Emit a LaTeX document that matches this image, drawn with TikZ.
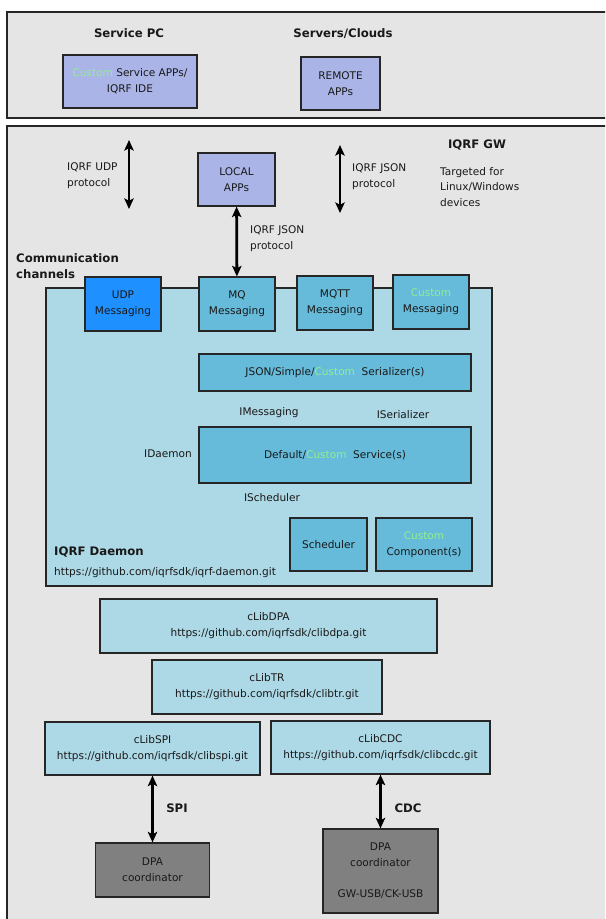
\documentclass[tikz,border=0pt]{standalone}
\usepackage{fontspec}
\setmainfont{DejaVu Sans}
\usetikzlibrary{arrows.meta}
\definecolor{gwgray}{RGB}{229,229,229}
\definecolor{applav}{RGB}{170,180,230}
\definecolor{libblue}{RGB}{173,216,230}
\definecolor{compblue}{RGB}{102,187,218}
\definecolor{udpblue}{RGB}{30,144,255}
\definecolor{dpagray}{RGB}{128,128,128}
\definecolor{custgreen}{RGB}{144,238,144}
\newcommand{\cust}{\textcolor{custgreen}{Custom}}

\begin{document}
\begin{tikzpicture}[x=0.03cm, y=-0.03cm,
    every node/.style={font=\fontsize{9}{13.6}\selectfont, text=black!90},
    box/.style={draw=black!85, line width=1pt, align=center, inner sep=0pt},
    lbl/.style={inner sep=0pt, align=left},
    head/.style={inner sep=0pt, align=left, font=\fontsize{10}{13.6}\selectfont\bfseries},
    link/.style={{Stealth[length=9pt,width=8pt,inset=2pt]}-{Stealth[length=9pt,width=8pt,inset=2pt]}, line width=2.4pt}]
\fill[white] (0,0) rectangle (605,919);
\clip (0,0) rectangle (605,919);
% hosts
\node[box, fill=gwgray, minimum width=18.39cm, minimum height=3.18cm] (top) at (313.5,65) {}; % top
\node[box, fill=gwgray, minimum width=18.39cm, minimum height=24.12cm] (gw) at (313.5,528) {}; % gw
\node[head] (servicepc) at (129,33) {Service PC}; % servicepc
\node[head] (servers) at (343,34) {Servers/Clouds}; % servers
\node[box, fill=applav, minimum width=4.02cm, minimum height=1.59cm] (svcapp) at (130,81.5) {\cust{} Service APPs/\\IQRF IDE}; % svcapp
\node[box, fill=applav, minimum width=2.37cm, minimum height=1.59cm] (remote) at (340.5,83.5) {REMOTE\\APPs}; % remote
% gateway
\node[head] (gwtitle) at (477,145) {IQRF GW}; % gwtitle
\node[lbl, anchor=west] (target) at (440,187) {Targeted for\\Linux/Windows\\devices}; % target
\node[box, fill=applav, minimum width=2.31cm, minimum height=1.59cm] (local) at (236.5,179.5) {LOCAL\\APPs}; % local
\coordinate (udptop) at (129,140); % udptop
\coordinate (udpbot) at (129,209); % udpbot
\coordinate (jsontop) at (340,145); % jsontop
\coordinate (jsonbot) at (340,213); % jsonbot
\node[lbl, anchor=west] (udplbl) at (67,176) {IQRF UDP\\protocol}; % udplbl
\node[lbl, anchor=west] (jsonlbl) at (352,177) {IQRF JSON\\protocol}; % jsonlbl
\node[lbl, anchor=west] (locallbl) at (250,239) {IQRF JSON\\protocol}; % locallbl
\node[head, anchor=west] (channels) at (16,266) {Communication\\channels}; % channels
% daemon
\node[box, fill=libblue, minimum width=13.38cm, minimum height=8.94cm] (daemon) at (269,437) {}; % daemon
\node[box, fill=udpblue, minimum width=2.28cm, minimum height=1.62cm] (udp) at (123,304) {UDP\\Messaging}; % udp
\node[box, fill=compblue, minimum width=2.28cm, minimum height=1.62cm] (mq) at (237,304) {MQ\\Messaging}; % mq
\node[box, fill=compblue, minimum width=2.28cm, minimum height=1.62cm] (mqtt) at (335,303) {MQTT\\Messaging}; % mqtt
\node[box, fill=compblue, minimum width=2.28cm, minimum height=1.62cm] (custmsg) at (431,302) {\cust\\Messaging}; % custmsg
\node[box, fill=compblue, minimum width=8.16cm, minimum height=1.11cm] (serial) at (335,372.5) {JSON/Simple/\cust\ \ Serializer(s)}; % serial
\node[box, fill=compblue, minimum width=8.16cm, minimum height=1.68cm] (service) at (335,455) {Default/\cust\ \ Service(s)}; % service
\node[box, fill=compblue, minimum width=2.31cm, minimum height=1.59cm] (sched) at (328.5,544.5) {Scheduler}; % sched
\node[box, fill=compblue, minimum width=2.88cm, minimum height=1.59cm] (custcomp) at (424,544.5) {\cust\\Component(s)}; % custcomp
\node[lbl] (imsg) at (269,413) {IMessaging}; % imsg
\node[lbl] (iser) at (403,415) {ISerializer}; % iser
\node[lbl] (idaemon) at (168,454) {IDaemon}; % idaemon
\node[lbl] (isched) at (272,498) {IScheduler}; % isched
\node[head, anchor=west] (daemontitle) at (54,552) {IQRF Daemon}; % daemontitle
\node[lbl, anchor=west] (daemonurl) at (54,573) {https://github.com/iqrfsdk/iqrf-daemon.git}; % daemonurl
% libraries
\node[box, fill=libblue, minimum width=10.11cm, minimum height=1.62cm] (dpa) at (268.5,626) {cLibDPA\\https://github.com/iqrfsdk/clibdpa.git}; % dpa
\node[box, fill=libblue, minimum width=6.9cm, minimum height=1.62cm] (tr) at (267,687) {cLibTR\\https://github.com/iqrfsdk/clibtr.git}; % tr
\node[box, fill=libblue, minimum width=6.45cm, minimum height=1.59cm] (spi) at (152.5,748.5) {cLibSPI\\https://github.com/iqrfsdk/clibspi.git}; % spi
\node[box, fill=libblue, minimum width=6.57cm, minimum height=1.59cm] (cdc) at (380.5,747.5) {cLibCDC\\https://github.com/iqrfsdk/clibcdc.git}; % cdc
\node[box, fill=dpagray, minimum width=3.42cm, minimum height=1.62cm] (coordspi) at (152.5,870) {DPA\\coordinator}; % coordspi
\node[box, fill=dpagray, minimum width=3.45cm, minimum height=2.52cm] (coordcdc) at (380.5,871) {DPA\\coordinator\\[13pt]GW-USB/CK-USB}; % coordcdc
\node[head] (spilbl) at (177,808) {SPI}; % spilbl
\node[head] (cdclbl) at (408,808) {CDC}; % cdclbl
% links
\draw[link] (udptop) -- (udpbot); % udp link
\draw[link] (jsontop) -- (jsonbot); % json link
\draw[link] (local) -- (mq); % local link
\draw[link] (spi) -- (coordspi); % spi link
\draw[link] (cdc) -- (coordcdc); % cdc link
\end{tikzpicture}
\end{document}
